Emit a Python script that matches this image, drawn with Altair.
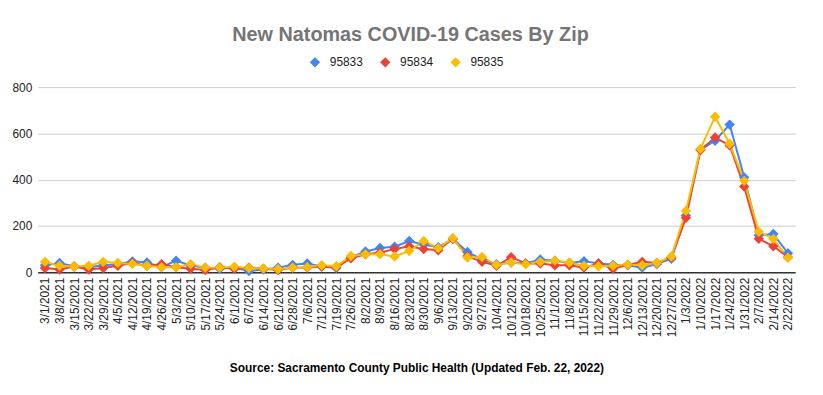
import altair as alt
import pandas as pd

dates = ["3/1/2021", "3/8/2021", "3/15/2021", "3/22/2021", "3/29/2021", "4/5/2021",
         "4/12/2021", "4/19/2021", "4/26/2021", "5/3/2021", "5/10/2021", "5/17/2021",
         "5/24/2021", "6/1/2021", "6/7/2021", "6/14/2021", "6/21/2021", "6/28/2021",
         "7/6/2021", "7/12/2021", "7/19/2021", "7/26/2021", "8/2/2021", "8/9/2021",
         "8/16/2021", "8/23/2021", "8/30/2021", "9/6/2021", "9/13/2021", "9/20/2021",
         "9/27/2021", "10/4/2021", "10/12/2021", "10/18/2021", "10/25/2021", "11/1/2021",
         "11/8/2021", "11/15/2021", "11/22/2021", "11/29/2021", "12/6/2021", "12/13/2021",
         "12/20/2021", "12/27/2021", "1/3/2022", "1/10/2022", "1/17/2022", "1/24/2022",
         "1/31/2022", "2/7/2022", "2/14/2022", "2/22/2022"]

zip_95833 = [30, 40, 25, 22, 30, 35, 47, 42, 22, 50, 28, 20, 15, 20, 5, 12, 20, 32,
             38, 25, 18, 65, 90, 105, 110, 135, 120, 108, 145, 88, 55, 35, 42, 38, 55, 50,
             40, 48, 38, 32, 30, 20, 35, 58, 245, 530, 568, 638, 410, 160, 165, 82]
zip_95834 = [18, 12, 25, 12, 18, 28, 40, 28, 35, 22, 15, 10, 22, 15, 20, 15, 10, 20,
             20, 25, 22, 60, 78, 85, 100, 112, 100, 95, 145, 70, 45, 28, 65, 38, 38, 30,
             30, 20, 38, 15, 32, 45, 40, 65, 235, 528, 582, 548, 370, 145, 112, 65]
zip_95835 = [45, 28, 25, 28, 45, 40, 36, 28, 22, 22, 35, 20, 20, 24, 18, 16, 14, 20,
             22, 30, 26, 70, 78, 78, 68, 92, 135, 104, 147, 64, 66, 32, 42, 35, 45, 50,
             42, 28, 26, 28, 33, 30, 40, 68, 265, 533, 672, 555, 395, 175, 144, 63]

series = ["95833", "95834", "95835"]
colors = ["#4285F4", "#EA4335", "#FBBC04"]

rows = []
for name, vals in zip(series, [zip_95833, zip_95834, zip_95835]):
    for d, v in zip(dates, vals):
        rows.append({"date": d, "zip": name, "cases": v})
df = pd.DataFrame(rows)

FONT = "Liberation Sans"

x = alt.X("date:N", sort=dates,
          scale=alt.Scale(type="point", padding=0.5),
          axis=alt.Axis(labelAngle=-90, ticks=False, grid=False, domainColor="#333333",
                        domainWidth=1.5, labelFontSize=12, labelColor="#222222",
                        labelPadding=5, labelFont=FONT,
                        title="Source: Sacramento County Public Health (Updated Feb. 22, 2022)",
                        titleFont=FONT, titleFontWeight="bold", titleFontSize=12,
                        titleColor="#000000", titlePadding=26))
y = alt.Y("cases:Q", scale=alt.Scale(domain=[0, 800]),
          axis=alt.Axis(values=[0, 200, 400, 600, 800], domain=False, ticks=False,
                        gridColor="#cccccc", labelPadding=6, labelColor="#222222",
                        labelFontSize=12, labelFont=FONT, title=None))
color = alt.Color("zip:N", scale=alt.Scale(domain=series, range=colors),
                  legend=alt.Legend(orient="none", legendX=274, legendY=-31,
                                    direction="horizontal", title=None,
                                    symbolType="diamond", symbolSize=110,
                                    symbolStrokeWidth=0, labelFontSize=12,
                                    labelFont=FONT, labelColor="#222222",
                                    labelOffset=9, columnPadding=16, padding=0))

base = alt.Chart(df).encode(x=x, y=y, color=color, order=alt.Order("zip:N"))
lines = base.mark_line(strokeWidth=2)
points = base.mark_point(shape="diamond", filled=True, size=110, opacity=1)

chart = alt.layer(lines, points).properties(
    width=765, height=187,
    autosize=alt.AutoSizeParams(type="none"),
    padding={"left": 30, "top": 78, "right": 20, "bottom": 112},
    title=alt.TitleParams("New Natomas COVID-19 Cases By Zip", font=FONT, fontSize=20,
                          fontWeight="bold", color="#757575", anchor="middle",
                          dx=-6, offset=12),
).configure_view(stroke=None)

chart.save("out.html", embed_options={"renderer": "svg", "actions": False})
